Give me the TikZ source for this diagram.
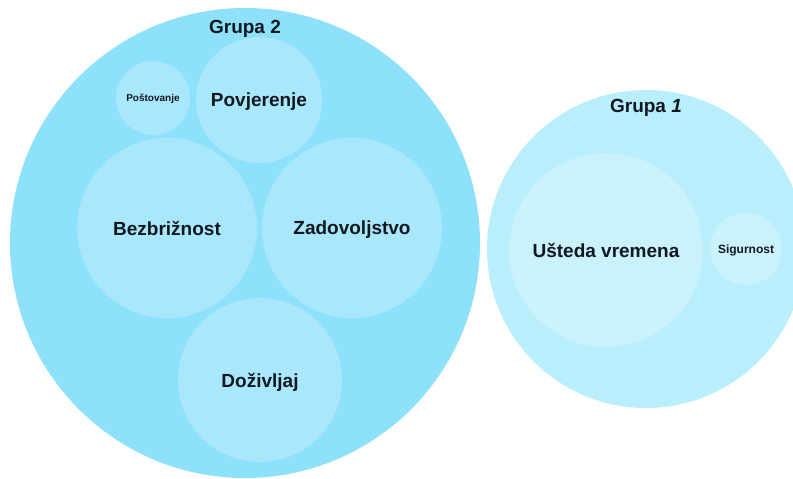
\documentclass[tikz,border=0pt]{standalone}
\usepackage{fontspec}
\setmainfont{Liberation Sans}
\definecolor{outerA}{HTML}{8EE1FA}
\definecolor{innerA}{HTML}{A9E7FC}
\definecolor{outerB}{HTML}{B9EEFC}
\definecolor{innerB}{HTML}{C9F2FD}
\definecolor{ink}{HTML}{111820}

\begin{document}
\begin{tikzpicture}[x=1pt,y=-1pt,
  bubble/.style={circle,inner sep=0pt,text depth=0pt,text=ink,font=\bfseries\fontsize{19}{19}\selectfont},
  grp/.style={text=ink,text depth=0pt,font=\bfseries\fontsize{19}{19}\selectfont}]
\useasboundingbox (0,0) rectangle (793,479);
%-------->group circles<--------------
\node[bubble,fill=outerA,minimum size=470pt] (grp2) at (245,243) {}; % Grupa 2
\node[bubble,fill=outerB,minimum size=318pt] (grp1) at (646,249) {}; % Grupa 1
%-------------> Grupa 2 values <-----------------
\node[bubble,fill=innerA,minimum size=74pt,font=\bfseries\fontsize{10}{10}\selectfont] (postovanje) at (153,98) {Poštovanje};
\node[bubble,fill=innerA,minimum size=126pt] (povjerenje) at (259,100) {Povjerenje};
\node[bubble,fill=innerA,minimum size=180pt] (bezbriznost) at (167,228) {Bezbrižnost};
\node[bubble,fill=innerA,minimum size=180pt] (zadovoljstvo) at (352,228) {Zadovoljstvo};
\node[bubble,fill=innerA,minimum size=164pt] (dozivljaj) at (260,380) {Doživljaj};
%-------------> Grupa 1 values <-----------------
\node[bubble,fill=innerB,minimum size=194pt] (usteda) at (606,250) {Ušteda vremena};
\node[bubble,fill=innerB,minimum size=72pt,font=\bfseries\fontsize{12}{12}\selectfont] (sigurnost) at (746,249) {Sigurnost};
%-----------> group labels <---------------
\node[grp] (lbl2) at (245,27) {Grupa 2};
\node[grp] (lbl1) at (646,106) {Grupa \textit{1}};
\end{tikzpicture}
\end{document}
